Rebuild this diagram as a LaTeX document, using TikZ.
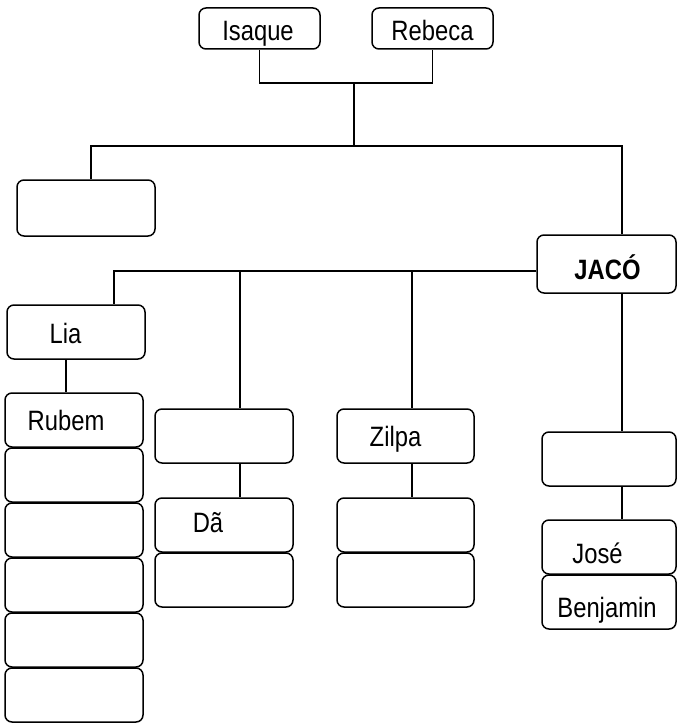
\documentclass[tikz,border=0pt]{standalone}
\usepackage{fontspec}
\setmainfont{Liberation Sans}[FakeStretch=0.85]
\usetikzlibrary{calc}

\tikzset{
  famnode/.style={draw, rounded corners=7pt, line width=1.5pt, inner sep=0pt,
    minimum width=138pt, minimum height=54pt},
  parentnode/.style={famnode, minimum width=121pt, minimum height=41pt},
  famname/.style={anchor=base, inner sep=0pt, font=\fontsize{28}{34}\selectfont},
}

\begin{document}
\begin{tikzpicture}[x=1pt, y=-1pt, line width=1.5pt]

\useasboundingbox (0,0) rectangle (677,725);

% parents
\node [parentnode] (isaque) at (259.5,28.5) {};
\node [parentnode] (rebeca) at (432.5,28.5) {};
\node [famname] (isaque-t) at (258,41) {Isaque};
\node [famname] (rebeca-t) at (432.5,41) {Rebeca};

\coordinate (top-join) at (354,83);
\coordinate (top-bar) at (354,146);

% the two sons
\node [famnode, minimum height=56pt] (irmao) at (86,208) {};
\node [famnode, minimum width=139pt, minimum height=58pt] (jaco) at (606.5,264) {};
\node [famname, font=\fontsize{28}{34}\selectfont\bfseries] (jaco-t) at (607.5,279) {JACÓ};

\draw (isaque.south) |- (top-join) -| (rebeca.south);
\draw (top-join) -- (top-bar);
\draw ([xshift=5pt]irmao.north) |- (top-bar) -| ([xshift=15.5pt]jaco.north);

% wives
\node [famnode] (lia) at (76,332) {};
\node [famnode] (bilha) at (224,436) {};
\node [famnode, minimum width=137pt] (zilpa) at (405.5,436) {};
\node [famnode, minimum width=134pt] (raquel) at (609,459) {};
\node [famname] (lia-t) at (65.5,343) {Lia};
\node [famname] (zilpa-t) at (395.5,446) {Zilpa};

\coordinate (kids-bar) at (114,271);
\coordinate (bilha-join) at (240,271);
\coordinate (zilpa-join) at (412,271);

\draw ([yshift=-7pt]jaco.west) -- (kids-bar) -- (kids-bar |- lia.north);
\draw (bilha-join) -- (bilha-join |- bilha.north);
\draw (zilpa-join) -- (zilpa-join |- zilpa.north);
\draw ([xshift=15.5pt]jaco.south) -- ([xshift=15.5pt]jaco.south |- raquel.north);

% sons of Lia
\node [famnode] (rubem) at (74,420) {};
\foreach \nome/\y in {simeao/475, levi/530, juda/585, issacar/640, zebulom/695}
  \node [famnode] (\nome) at (74,\y) {};
\node [famname] (rubem-t) at (66,430) {Rubem};

% sons of Bilha and Zilpa
\node [famnode] (da) at (224,525) {};
\node [famnode] (naftali) at (224,580) {};
\node [famnode, minimum width=137pt] (gade) at (405.5,525) {};
\node [famnode, minimum width=137pt] (aser) at (405.5,580) {};
\node [famname] (da-t) at (208,532) {Dã};

% sons of Raquel
\node [famnode, minimum width=134pt] (jose) at (609,547) {};
\node [famnode, minimum width=134pt] (benjamim) at (609,602) {};
\node [famname] (jose-t) at (597.5,563) {José};
\node [famname] (benjamim-t) at (607,617) {Benjamin};

\draw ([xshift=-10pt]lia.south) -- ([xshift=-10pt]lia.south |- rubem.north);
\draw ([xshift=16pt]bilha.south) -- ([xshift=16pt]bilha.south |- da.north);
\draw ([xshift=6.5pt]zilpa.south) -- ([xshift=6.5pt]zilpa.south |- gade.north);
\draw ([xshift=13pt]raquel.south) -- ([xshift=13pt]raquel.south |- jose.north);

\end{tikzpicture}
\end{document}
